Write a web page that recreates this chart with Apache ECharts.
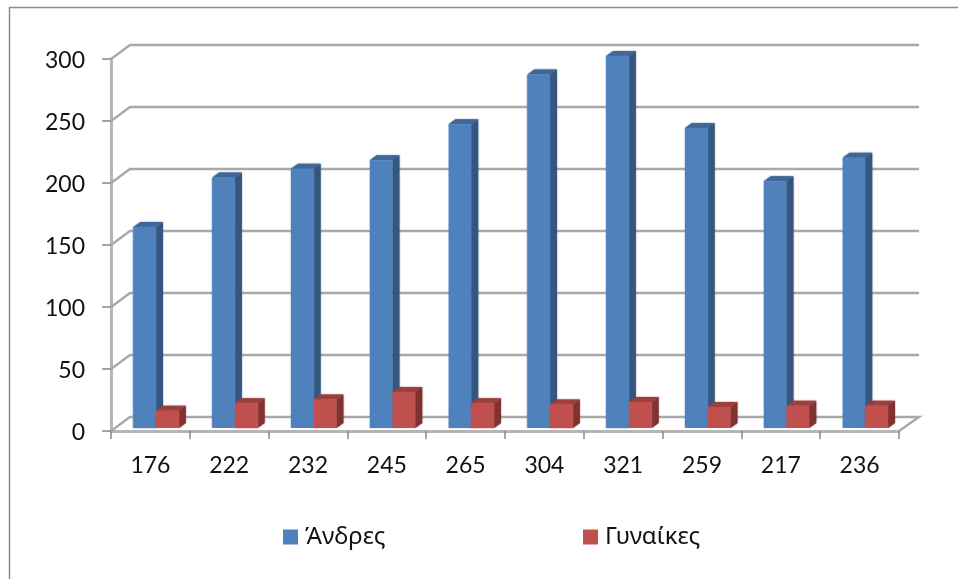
<!DOCTYPE html>
<html>
<head>
<meta charset="utf-8">
<style>html,body{margin:0;padding:0;background:#fff}#c{width:958px;height:579px}</style>
<script src="https://cdn.jsdelivr.net/npm/echarts@6/dist/echarts.min.js"></script>
</head>
<body>
<div id="c"></div>
<script>
const categories = ['176','222','232','245','265','304','321','259','217','236'];
const men = [162,202,209,216,245,285,300,242,199,218];
const women = [14,20,23,29,20,19,21,17,18,18];
const yTicks = [0,50,100,150,200,250,300];
const seriesNames = ['Άνδρες','Γυναίκες'];

const FONT = 'Lato, "Noto Sans", sans-serif';
const WALL_DX = 19, WALL_DY = -14, WALL_END = 919;
const DEPTH_X = 7, DEPTH_Y = -5, BASE_LIFT = 3;
const BAR_W = 22.6;

function barRenderer(offset, front, side, top) {
  return function (params, api) {
    const cat = api.value(0), val = api.value(1);
    const p = api.coord([cat, val]);
    const base = api.coord([cat, 0]);
    const x0 = p[0] + offset, x1 = x0 + BAR_W;
    const yT = p[1] - BASE_LIFT, yB = base[1] - BASE_LIFT;
    return {
      type: 'group',
      children: [
        { type: 'polygon', shape: { points: [[x1,yT],[x1+DEPTH_X,yT+DEPTH_Y],[x1+DEPTH_X,yB+DEPTH_Y],[x1,yB]] }, style: { fill: side, shadowBlur: 1.5, shadowColor: side } },
        { type: 'polygon', shape: { points: [[x0,yT],[x0+DEPTH_X,yT+DEPTH_Y],[x1+DEPTH_X,yT+DEPTH_Y],[x1,yT]] }, style: { fill: top, shadowBlur: 1.5, shadowColor: top } },
        { type: 'rect', shape: { x: x0, y: yT, width: BAR_W, height: yB - yT }, style: { fill: front, shadowBlur: 1.5, shadowColor: front } }
      ]
    };
  };
}

function wallRenderer(params, api) {
  const v = api.value(0);
  const r = params.coordSys;
  const y = api.coord([0, v])[1];
  const lineStyle = { stroke: '#a9a9a9', lineWidth: 2.5, fill: null };
  const pts = [[r.x, y],[r.x + WALL_DX, y + WALL_DY],[WALL_END, y + WALL_DY]];
  if (v === 0) pts.push([r.x + r.width, y]);
  return { type: 'polyline', shape: { points: pts }, style: lineStyle };
}

const legendText = { fontFamily: '"Noto Sans", sans-serif', fontSize: 24, color: '#111', padding: [0,0,0,2] };
const chart = echarts.init(document.getElementById('c'), null, { renderer: 'canvas' });
chart.setOption({
  animation: false,
  backgroundColor: '#ffffff',
  grid: { left: 111, top: 59, width: 788, height: 372, containLabel: false },
  xAxis: {
    type: 'category', data: categories,
    axisLine: { lineStyle: { color: '#b5b5b5', width: 3 } },
    axisTick: { show: true, length: 8, lineStyle: { color: '#868686', width: 1.5 } },
    axisLabel: { color: '#111', fontFamily: FONT, fontSize: 23, margin: 23 },
    splitLine: { show: false }
  },
  yAxis: {
    type: 'value', min: 0, max: 300, interval: 50,
    axisLine: { show: true, lineStyle: { color: '#b5b5b5', width: 3 } },
    axisTick: { show: true, length: 9, lineStyle: { color: '#868686', width: 1.5 } },
    axisLabel: { color: '#111', fontFamily: FONT, fontSize: 23, margin: 26, verticalAlign: 'top', padding: [-10,0,0,0] },
    splitLine: { show: false }
  },
  legend: [
    { data: [seriesNames[0]], left: 283, top: 525, padding: 0, icon: 'rect', itemWidth: 15, itemHeight: 15, itemGap: 0, textStyle: legendText },
    { data: [seriesNames[1]], left: 583, top: 525, padding: 0, icon: 'rect', itemWidth: 15, itemHeight: 15, itemGap: 0, textStyle: legendText }
  ],
  graphic: [
    { type: 'polyline', silent: true, shape: { points: [[9.5,579],[9.5,7.5],[958,7.5]] }, style: { stroke: '#8c8c8c', lineWidth: 1.5, fill: null } }
  ],
  series: [
    { type: 'custom', name: 'wall', silent: true, z: 1, data: yTicks.map(v => [v]), encode: { y: 0 }, renderItem: wallRenderer },
    { type: 'custom', name: seriesNames[0], z: 3, itemStyle: { color: '#4f81bd' },
      data: men.map((v, i) => [i, v]), encode: { x: 0, y: 1 },
      renderItem: barRenderer(-17, '#4f81bd', '#34567f', '#3f6797') },
    { type: 'custom', name: seriesNames[1], z: 4, itemStyle: { color: '#c0504d' },
      data: women.map((v, i) => [i, v]), encode: { x: 0, y: 1 },
      renderItem: barRenderer(5.8, '#c0504d', '#7f3331', '#993f3d') }
  ]
});
</script>
</body>
</html>
